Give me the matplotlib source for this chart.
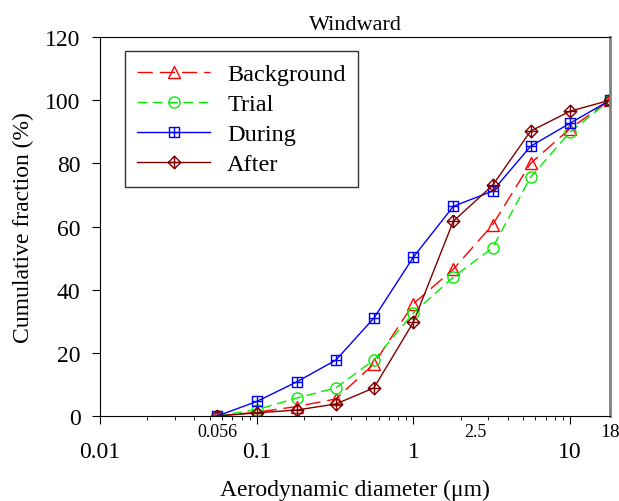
import numpy as np
import matplotlib
matplotlib.use("Agg")
import matplotlib.pyplot as plt
from matplotlib.path import Path
from matplotlib.transforms import blended_transform_factory

plt.rcParams['font.family'] = ['Liberation Serif', 'DejaVu Serif']

# cut sizes (um)
diam = [0.056, 0.1, 0.18, 0.32, 0.56, 1.0, 1.8, 3.2, 5.6, 10, 18]

background = [0, 1.2, 3.0, 5.4, 16.5, 35.5, 46.5, 60.5, 80, 91, 100]
trial = [0, 2.0, 5.7, 8.9, 17.7, 32.6, 44, 53.2, 75.6, 89.9, 100]
during = [0, 4.6, 10.8, 17.7, 31, 50.3, 66.4, 71.2, 85.4, 92.7, 100]
after = [0, 1.0, 1.9, 3.8, 8.9, 29.7, 61.7, 73, 90.2, 96.5, 100]

extra_ticks = [0.056, 2.5]
extra_labels = ['0.056', '2.5']

# square with cross, diamond with cross
M, L = Path.MOVETO, Path.LINETO
sq_plus = Path([(-1, -1), (1, -1), (1, 1), (-1, 1), (-1, -1),
                (0, -1), (0, 1), (-1, 0), (1, 0)],
               [M, L, L, L, L, M, L, M, L])
dia_plus = Path([(0, -1), (1, 0), (0, 1), (-1, 0), (0, -1),
                 (0, 1), (-1, 0), (1, 0)],
                [M, L, L, L, L, L, M, L])

fig = plt.figure(figsize=(6.19, 5.02), dpi=100)
ax = fig.add_axes([0.1616, 0.1693, 0.8239, 0.755])

ax.plot(diam, background, color='red', lw=1, dashes=(11, 5), marker='^',
        ms=8, mfc='none', mec='red', label='Background')
ax.plot(diam, trial, color='#00ee00', lw=1, dashes=(7, 4), marker='o',
        ms=8, mfc='none', mec='#00ee00', label='Trial')
ax.plot(diam, during, color='blue', lw=1, marker=sq_plus,
        ms=7, mfc='none', mec='blue', label='During')
ax.plot(diam, after, color='#800000', lw=1, marker=dia_plus,
        ms=9, mfc='none', mec='#800000', label='After')

ax.set_xscale('log')
ax.set_xlim(0.01, 18)
ax.set_ylim(0, 120)
ax.set_yticks(np.arange(0, 121, 20))
ax.set_xticks([0.01, 0.1, 1, 10])
ax.set_xticklabels(['0.01', '0.1', '1', '10'])

ax.tick_params(axis='x', which='major', direction='out', length=6,
               labelsize=17, pad=12)
ax.tick_params(axis='x', which='minor', direction='out', length=3)
ax.tick_params(axis='y', direction='out', length=6, labelsize=17, pad=8)

ax.spines['right'].set_color('#808080')
ax.spines['right'].set_linewidth(2)

tr = blended_transform_factory(ax.transData, ax.transAxes)
for xv, lab in zip(extra_ticks, extra_labels):
    ax.text(xv, -0.04, lab, transform=tr, ha='center', va='center', fontsize=13)
ax.text(18, -0.04, '18', transform=tr, ha='center', va='center', fontsize=14)

ax.set_title('Windward', fontsize=16, pad=6)
ax.set_xlabel('Aerodynamic diameter (\u03bcm)', fontsize=17, labelpad=12)
ax.set_ylabel('Cumulative fraction (%)', fontsize=17, labelpad=8)

leg = ax.legend(loc='upper left', bbox_to_anchor=(0.049, 0.963), fontsize=17.5,
                handlelength=3.0, frameon=True, fancybox=False,
                edgecolor='black', borderpad=0.5, labelspacing=0.33,
                handletextpad=0.7, borderaxespad=0)
leg.get_frame().set_linewidth(1)

fig.savefig('out.png', dpi=100)
